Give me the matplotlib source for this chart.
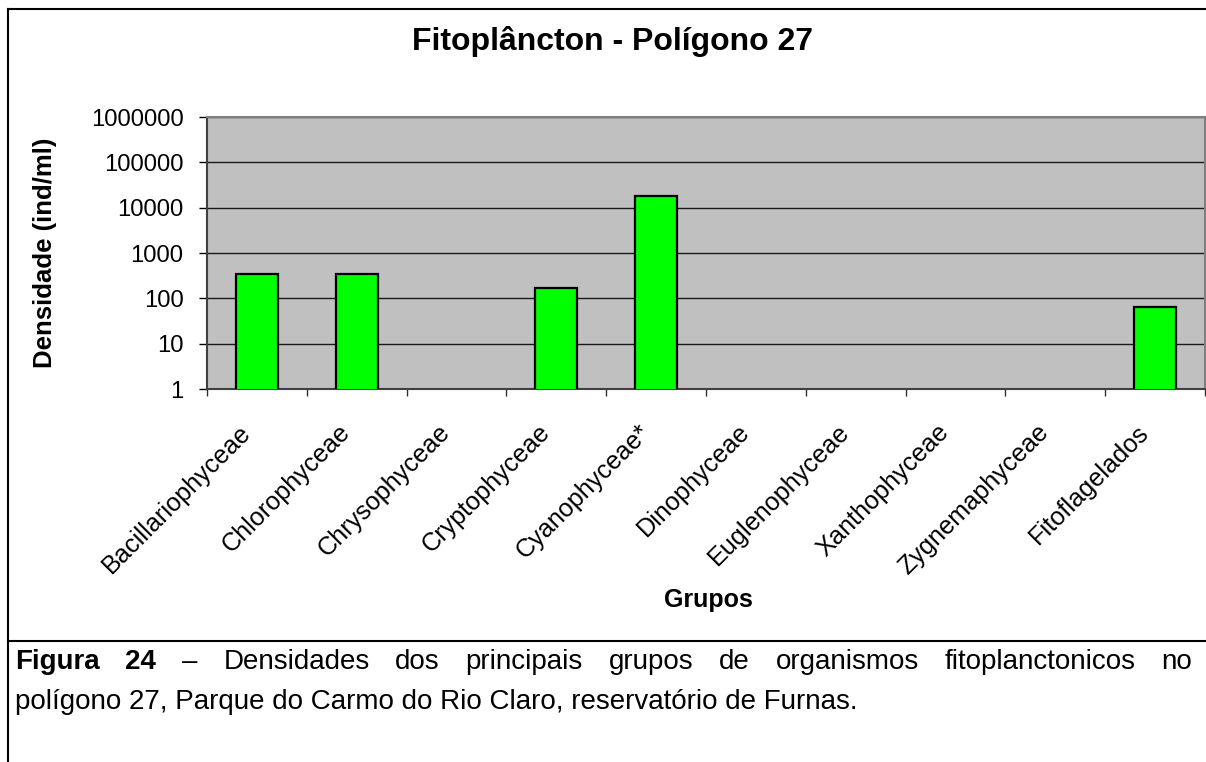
import numpy as np
import matplotlib
matplotlib.use("Agg")
import matplotlib.pyplot as plt
from matplotlib.lines import Line2D
from matplotlib.ticker import NullLocator

# dados
grupos = ["Bacillariophyceae", "Chlorophyceae", "Chrysophyceae", "Cryptophyceae",
          "Cyanophyceae*", "Dinophyceae", "Euglenophyceae", "Xanthophyceae",
          "Zygnemaphyceae", "Fitoflagelados"]
densidade = [340, 340, 0, 169, 18500, 0, 0, 0, 0, 64]
y_ticks = [1, 10, 100, 1000, 10000, 100000, 1000000]

titulo = "Fitoplâncton - Polígono 27"
y_label = "Densidade (ind/ml)"
x_label = "Grupos"
legenda_negrito = "Figura 24"
legenda_l1 = "– Densidades dos principais grupos de organismos fitoplanctonicos no"
legenda_l2 = "polígono 27, Parque do Carmo do Rio Claro, reservatório de Furnas."

plt.rcParams['font.family'] = ['Liberation Sans', 'DejaVu Sans']

W, H = 1206, 762
fig = plt.figure(figsize=(W / 100, H / 100), dpi=100)


def fx(x):
    return x / W


def fy(y):
    return 1 - y / H


ax = fig.add_axes([fx(207), fy(389), 998 / W, 272 / H])
ax.set_facecolor('#C0C0C0')
ax.set_yscale('log')
ax.set_ylim(1, 1e6)
ax.set_xlim(-0.5, len(grupos) - 0.5)

x = np.arange(len(grupos))
vals = np.array(densidade, dtype=float)
vals[vals <= 0] = np.nan
ax.bar(x, vals, width=0.42, color='#00FF00', edgecolor='black', linewidth=1.6, zorder=3)

# grade e eixos
ax.set_axisbelow(True)
ax.yaxis.grid(True, color='#1a1a1a', linewidth=1.0)
ax.set_yticks(y_ticks)
ax.set_yticklabels([str(v) for v in y_ticks])
ax.yaxis.set_minor_locator(NullLocator())
ax.tick_params(axis='y', direction='out', length=6, width=1, color='black',
               pad=11, labelsize=17.2)
ax.set_xticks(np.arange(-0.5, len(grupos), 1))
ax.set_xticklabels([])
ax.tick_params(axis='x', direction='out', length=5, width=1, color='#303030')
for s in ['top', 'right']:
    ax.spines[s].set_color('#808080')
    ax.spines[s].set_linewidth(1.5)
for s in ['left', 'bottom']:
    ax.spines[s].set_color('#404040')
    ax.spines[s].set_linewidth(1.5)

for i, g in enumerate(grupos):
    ax.text(i - 0.1, -0.145, g, transform=ax.get_xaxis_transform(), rotation=45,
            ha='right', va='center', rotation_mode='anchor', fontsize=18.2)

# titulos
fig.text(fx(612), fy(50), titulo, ha='center', va='baseline', fontsize=23, fontweight='bold')
fig.text(fx(45), fy(253), y_label, rotation=90, ha='center', va='center',
         fontsize=18.5, fontweight='bold')
fig.text(fx(708), fy(607), x_label, ha='center', va='baseline', fontsize=18, fontweight='bold')

# moldura
fig.add_artist(Line2D([fx(8), fx(8)], [fy(9), 0], transform=fig.transFigure, color='black', lw=1.5))
fig.add_artist(Line2D([fx(8), 1], [fy(9), fy(9)], transform=fig.transFigure, color='black', lw=1.5))
fig.add_artist(Line2D([fx(8), 1], [fy(641), fy(641)], transform=fig.transFigure, color='black', lw=1.5))

# legenda justificada
palavras = [(p, 'bold') for p in legenda_negrito.split()] + [(p, 'normal') for p in legenda_l1.split()]
objs = [fig.text(0, fy(669), p, fontsize=20, fontweight=w, va='baseline') for p, w in palavras]
r = fig.canvas.get_renderer()
larg = [t.get_window_extent(r).width for t in objs]
gap = (1192 - 15 - sum(larg)) / (len(objs) - 1)
xx = 15
for t, w in zip(objs, larg):
    t.set_x(fx(xx))
    xx += w + gap
fig.text(fx(15), fy(709), legenda_l2, fontsize=20, va='baseline')

fig.savefig('out.png', dpi=100)
